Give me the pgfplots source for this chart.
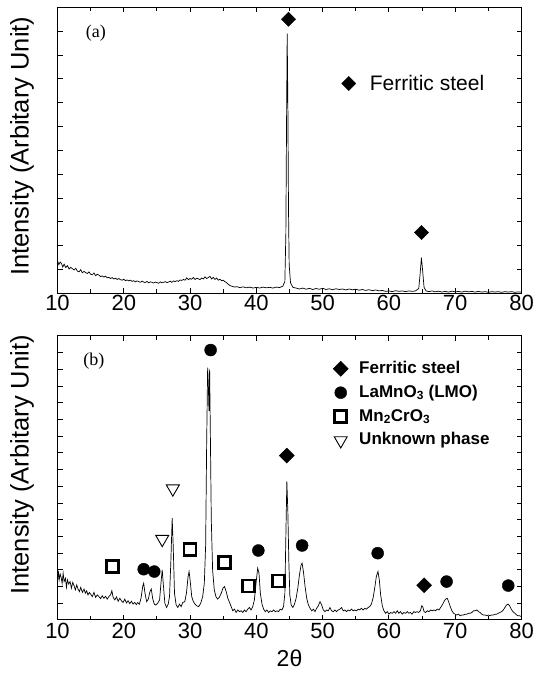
\documentclass[border=0pt]{standalone}
\usepackage{fontspec}
\setmainfont{Liberation Sans}
\newfontfamily\seriffont{Liberation Serif}
\usepackage{pgfplots}
\pgfplotsset{compat=1.18}
\pgfplotsset{
  xrd/.style={
    scale only axis, width=464pt,
    xmin=10, xmax=80, xtick={10,20,...,80}, minor x tick num=1,
    ymin=0, yticklabels={},
    tick align=inside,
    major tick length=5pt, minor tick length=4pt,
    tick style={black, line width=0.9pt},
    axis line style={line width=1pt},
    tick label style={font=\fontsize{22}{24}\selectfont},
    /pgf/number format/assume math mode=true,
    ylabel={Intensity (Arbitary Unit)},
    legend cell align=left,
    legend image code/.code={\draw[##1] plot coordinates {(0pt,0pt)};},
  },
  dia/.style={only marks, mark=square*, mark options={rotate=45, fill=black, draw=black}},
  circ/.style={only marks, mark=*, mark size=6pt, mark options={fill=black, draw=black}},
  sq/.style={only marks, mark=square, mark size=6pt, mark options={draw=black, line width=2.8pt}},
  tri/.style={only marks, mark=triangle, mark size=7.5pt, mark options={rotate=180, draw=black, line width=0.9pt}},
}
\begin{document}
\begin{tikzpicture}
\useasboundingbox (0pt,0pt) rectangle (538pt,676pt);
% ---------------- panel (a)
\begin{axis}[xrd, at={(57.5pt,382.7pt)}, anchor=south west, height=286pt,
  ymax=12, ytick={1,...,11}, yticklabels={},
  xticklabel style={yshift=2pt},
  ylabel style={font=\fontsize{25.5}{28}\selectfont, at={(axis description cs:-0.0765,0.514)}, anchor=center},
  legend style={at={(axis cs:53.9,8.8)}, anchor=west, xshift=-7pt, draw=none, fill=none, inner sep=0pt,
    column sep=14pt, nodes={inner sep=0pt}, font=\fontsize{21}{24}\selectfont},
]
\addplot[black, line width=0.7pt, forget plot] coordinates {
(10.00,1.38) (10.20,1.20) (10.40,1.31) (10.60,1.25) (10.80,1.10) (11.00,1.22) (11.25,1.08) (11.50,1.16) (11.75,1.02)
(12.00,1.09) (12.20,1.04) (12.50,0.98) (12.75,1.05) (13.00,0.93) (13.25,0.90) (13.50,0.99) (13.75,0.86)
(14.00,0.92) (14.25,0.87) (14.50,0.83) (14.75,0.90) (15.00,0.80) (15.25,0.78) (15.50,0.85) (15.75,0.74)
(16.00,0.80) (16.25,0.76) (16.50,0.70) (16.75,0.73) (17.00,0.68) (17.25,0.72) (17.50,0.65) (17.75,0.67)
(18.00,0.62) (18.25,0.66) (18.50,0.60) (18.75,0.63) (19.00,0.58) (19.25,0.62) (19.50,0.57) (19.75,0.55)
(20.00,0.59) (20.25,0.53) (20.50,0.56) (20.75,0.52) (21.00,0.55) (21.25,0.50) (21.50,0.53) (21.75,0.48)
(22.00,0.52) (22.25,0.49) (22.50,0.46) (22.75,0.51) (23.00,0.47) (23.25,0.45) (23.50,0.50) (23.75,0.44)
(24.00,0.48) (24.25,0.46) (24.50,0.43) (24.75,0.47) (25.00,0.45) (25.25,0.42) (25.50,0.48) (25.75,0.44)
(26.00,0.46) (26.25,0.49) (26.50,0.45) (26.75,0.47) (27.00,0.51) (27.25,0.46) (27.50,0.52) (27.75,0.49)
(28.00,0.53) (28.25,0.50) (28.50,0.56) (28.75,0.54) (29.00,0.58) (29.25,0.55) (29.50,0.65) (29.75,0.57)
(30.00,0.62) (30.25,0.59) (30.50,0.66) (30.75,0.58) (31.00,0.63) (31.25,0.61) (31.50,0.57) (31.75,0.64)
(32.00,0.60) (32.25,0.69) (32.50,0.62) (32.75,0.66) (33.00,0.71) (33.25,0.60) (33.50,0.67) (33.75,0.58)
(34.00,0.64) (34.25,0.55) (34.50,0.59) (34.75,0.53) (35.00,0.55) (35.25,0.49) (35.50,0.45) (35.75,0.38)
(36.00,0.33) (36.25,0.30) (36.50,0.28) (36.75,0.26) (37.00,0.28) (37.50,0.24) (38.00,0.27) (38.50,0.23)
(39.00,0.26) (39.50,0.22) (40.00,0.25) (40.50,0.22) (41.00,0.26) (41.50,0.23) (42.00,0.25) (42.50,0.22)
(43.00,0.26) (43.50,0.24) (44.00,0.30) (44.30,0.50) (44.45,2.50) (44.55,7.00) (44.65,10.90) (44.75,8.00)
(44.85,3.50) (44.95,1.20) (45.15,0.45) (45.50,0.25) (46.00,0.22) (46.50,0.18) (47.00,0.22) (47.50,0.17)
(48.00,0.21) (48.50,0.16) (49.00,0.20) (49.50,0.17) (50.00,0.21) (50.50,0.16) (51.00,0.19) (51.50,0.15)
(52.00,0.19) (52.50,0.16) (53.00,0.18) (53.50,0.14) (54.00,0.18) (54.50,0.15) (55.00,0.17) (55.50,0.13)
(56.00,0.16) (56.50,0.12) (57.00,0.15) (57.50,0.11) (58.00,0.14) (58.50,0.10) (59.00,0.12) (59.50,0.08)
(60.00,0.10) (60.50,0.07) (61.00,0.11) (61.50,0.08) (62.00,0.10) (62.50,0.07) (63.00,0.10) (63.50,0.08)
(64.00,0.10) (64.50,0.20) (64.70,0.80) (64.90,1.50) (65.10,0.90) (65.30,0.25) (65.60,0.10) (66.00,0.07)
(66.50,0.10) (67.00,0.06) (67.50,0.09) (68.00,0.05) (68.50,0.08) (69.00,0.05) (69.50,0.09) (70.00,0.06)
(70.50,0.08) (71.00,0.05) (71.50,0.09) (72.00,0.06) (72.50,0.08) (73.00,0.05) (73.50,0.08) (74.00,0.05)
(74.50,0.07) (75.00,0.04) (75.50,0.07) (76.00,0.05) (76.50,0.07) (77.00,0.04) (77.50,0.07) (78.00,0.05)
(78.50,0.07) (79.00,0.04) (79.50,0.06) (80.00,0.05)
};
\addplot[dia, mark size=5pt] coordinates {(44.85,11.5) (64.9,2.55)};
\addlegendentry{Ferritic steel}
\node[font=\seriffont\fontsize{18}{20}\selectfont] at (axis cs:15.8,10.9) {(a)};
\end{axis}
% ---------------- panel (b)
\begin{axis}[xrd, at={(57.5pt,56pt)}, anchor=south west, height=284pt,
  ymax=17, ytick={1,...,16}, yticklabels={},
  xlabel={2θ},
  xlabel style={font=\fontsize{23}{25}\selectfont, at={(axis description cs:0.5,-0.1356)}, anchor=center},
  ylabel style={font=\fontsize{25.5}{28}\selectfont, at={(axis description cs:-0.0765,0.546)}, anchor=center},
  legend style={at={(axis cs:52.7,15.2)}, anchor=north west, xshift=-7.5pt, yshift=6pt, draw=none, fill=none, inner sep=0pt,
    column sep=11pt, row sep=6.9pt, nodes={inner sep=0pt, text height=13pt, text depth=4pt},
    font=\bfseries\fontsize{17}{20}\selectfont},
]
\addplot[black, line width=0.7pt, forget plot] coordinates {
(10.00,2.30) (10.12,2.95) (10.25,2.40) (10.40,2.75) (10.55,2.55) (10.70,2.20) (10.85,2.80) (11.00,2.30)
(11.20,2.50) (11.35,1.95) (11.50,2.40) (11.70,2.15) (11.90,2.30) (12.10,1.90) (12.30,2.25) (12.50,2.05)
(12.70,1.80) (12.90,2.10) (13.10,1.85) (13.30,1.70) (13.50,1.95) (13.75,1.65) (14.00,1.85) (14.20,1.60)
(14.40,1.75) (14.60,1.50) (14.80,1.65) (15.00,1.55) (15.25,1.40) (15.50,1.65) (15.75,1.35) (16.00,1.50)
(16.25,1.40) (16.50,1.28) (16.75,1.45) (17.00,1.30) (17.25,1.42) (17.50,1.25) (17.75,1.40) (18.00,1.50)
(18.20,1.75) (18.40,1.35) (18.65,1.20) (18.90,1.38) (19.15,1.12) (19.40,1.30) (19.65,1.15) (19.90,1.05)
(20.15,1.25) (20.40,1.02) (20.65,1.15) (20.90,0.98) (21.15,1.12) (21.40,0.95) (21.65,1.05) (21.90,0.92)
(22.10,1.05) (22.35,0.95) (22.60,1.30) (22.85,2.00) (23.00,2.20) (23.20,1.60) (23.45,1.10) (23.70,1.25)
(23.95,1.70) (24.15,1.85) (24.35,1.30) (24.60,0.95) (24.85,0.90) (25.10,1.00) (25.40,1.20) (25.65,2.40)
(25.80,3.00) (25.95,2.20) (26.20,1.00) (26.45,0.75) (26.70,0.95) (26.90,1.40) (27.10,3.50) (27.30,6.10)
(27.45,4.50) (27.65,1.60) (27.90,0.90) (28.15,0.75) (28.40,0.95) (28.65,0.80) (28.90,1.05) (29.20,1.10)
(29.45,1.60) (29.70,2.60) (29.85,2.90) (30.00,2.40) (30.25,1.40) (30.50,1.10) (30.75,0.95) (31.00,0.85)
(31.30,0.80) (31.60,1.00) (31.90,1.40) (32.15,2.20) (32.35,4.50) (32.50,10.50) (32.65,15.10) (32.75,14.20)
(32.85,12.50) (32.95,15.00) (33.05,11.50) (33.20,6.00) (33.40,3.00) (33.65,1.80) (33.90,1.40) (34.15,1.25)
(34.40,1.35) (34.70,1.60) (34.95,1.90) (35.20,2.00) (35.45,1.70) (35.70,1.30) (35.95,1.05) (36.20,0.80)
(36.45,0.55) (36.70,0.65) (36.95,0.45) (37.20,0.60) (37.45,0.50) (37.70,0.55) (37.95,0.45) (38.20,0.60)
(38.45,0.50) (38.70,0.65) (38.95,0.75) (39.20,0.60) (39.45,0.80) (39.70,1.20) (39.95,2.20) (40.20,3.10)
(40.40,2.80) (40.60,1.60) (40.85,0.95) (41.10,0.65) (41.35,0.50) (41.60,0.60) (41.85,0.45) (42.10,0.55)
(42.35,0.50) (42.60,0.60) (42.85,0.50) (43.10,0.55) (43.35,0.50) (43.60,0.65) (43.85,0.60) (44.10,0.80)
(44.30,1.60) (44.45,5.00) (44.60,8.30) (44.75,6.50) (44.90,3.50) (45.05,1.50) (45.25,0.90) (45.50,0.75)
(45.75,0.95) (46.00,1.30) (46.25,1.90) (46.50,2.70) (46.75,3.30) (46.90,3.40) (47.10,2.90) (47.35,2.00)
(47.60,1.30) (47.85,0.90) (48.10,0.70) (48.35,0.55) (48.60,0.65) (48.85,0.50) (49.10,0.70) (49.35,0.85)
(49.60,1.10) (49.85,0.90) (50.10,0.60) (50.35,0.50) (50.60,0.60) (50.85,0.55) (51.10,0.75) (51.35,0.55)
(51.60,0.50) (51.85,0.60) (52.10,0.50) (52.35,0.60) (52.60,0.65) (52.85,0.75) (53.10,0.55) (53.35,0.60)
(53.60,0.50) (53.85,0.60) (54.10,0.55) (54.35,0.65) (54.60,0.55) (54.85,0.60) (55.10,0.55) (55.35,0.65)
(55.60,0.60) (55.85,0.70) (56.10,0.60) (56.35,0.70) (56.60,0.65) (56.85,0.75) (57.10,0.80) (57.35,0.95)
(57.60,1.30) (57.85,1.90) (58.10,2.60) (58.35,2.90) (58.55,2.40) (58.75,1.50) (59.00,0.85) (59.25,0.55)
(59.50,0.40) (59.75,0.50) (60.00,0.35) (60.25,0.45) (60.50,0.40) (60.75,0.50) (61.00,0.40) (61.25,0.55)
(61.50,0.40) (61.75,0.50) (62.00,0.35) (62.25,0.45) (62.50,0.40) (62.75,0.50) (63.00,0.40) (63.25,0.45)
(63.50,0.35) (63.75,0.50) (64.00,0.45) (64.25,0.50) (64.50,0.45) (64.75,0.55) (64.95,0.85) (65.10,0.80)
(65.30,0.50) (65.55,0.45) (65.80,0.55) (66.05,0.50) (66.30,0.60) (66.55,0.55) (66.80,0.60) (67.05,0.55)
(67.30,0.65) (67.55,0.60) (67.80,0.75) (68.05,0.90) (68.30,1.10) (68.55,1.25) (68.80,1.30) (69.00,1.10)
(69.25,0.80) (69.50,0.55) (69.75,0.40) (70.00,0.35) (70.25,0.30) (70.50,0.35) (70.75,0.25) (71.00,0.30)
(71.25,0.30) (71.50,0.35) (71.75,0.35) (72.00,0.40) (72.25,0.40) (72.50,0.45) (72.75,0.55) (73.00,0.55)
(73.25,0.60) (73.50,0.50) (73.75,0.45) (74.00,0.35) (74.25,0.30) (74.50,0.30) (74.75,0.25) (75.00,0.30)
(75.25,0.25) (75.50,0.30) (75.75,0.30) (76.00,0.35) (76.25,0.35) (76.50,0.40) (76.75,0.45) (77.00,0.50)
(77.25,0.60) (77.50,0.75) (77.75,0.90) (78.00,0.95) (78.20,0.85) (78.45,0.65) (78.70,0.50) (79.00,0.40)
(79.25,0.30) (79.50,0.25) (79.75,0.25) (80.00,0.20)
};
\addplot[dia, mark size=5.3pt] coordinates {(44.6,9.84) (65.3,2.08)};
\addlegendentry{Ferritic steel}
\addplot[circ] coordinates {(23.0,3.04) (24.6,2.9) (33.1,16.16) (40.3,4.16) (46.9,4.46) (58.3,4.0) (68.7,2.3) (78.0,2.06)};
\addlegendentry{LaMnO\textsubscript{3} (LMO)}
\addplot[sq] coordinates {(18.3,3.2) (30.0,4.2) (35.2,3.46) (38.8,2.04) (43.3,2.34)};
\addlegendentry{Mn\textsubscript{2}CrO\textsubscript{3}}
\addplot[tri] coordinates {(25.8,4.84) (27.4,7.86)};
\addlegendentry{Unknown phase}
\node[font=\seriffont\fontsize{18}{20}\selectfont] at (axis cs:15.5,15.5) {(b)};
\end{axis}
\end{tikzpicture}
\end{document}
